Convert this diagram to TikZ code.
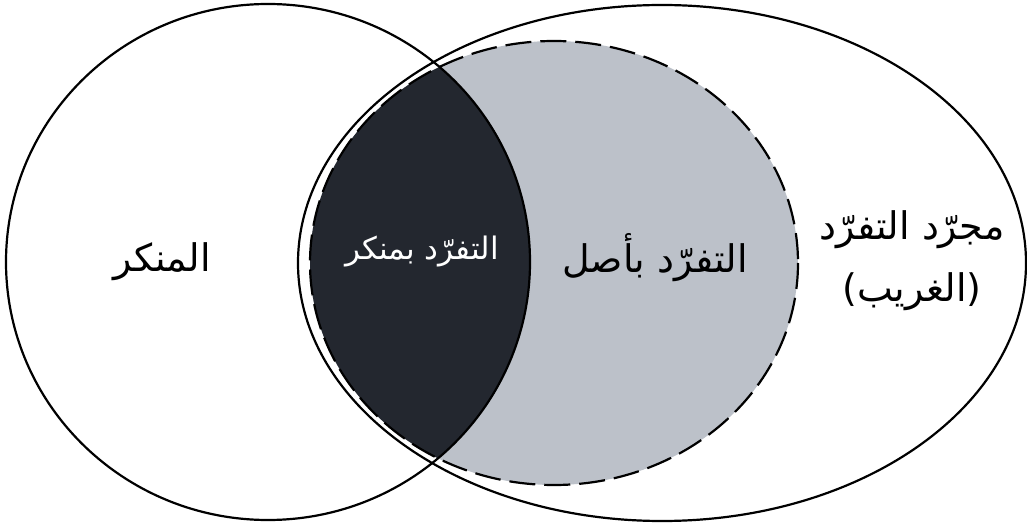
\documentclass[tikz,border=0pt]{standalone}
\usepackage{fontspec}
\TeXXeTstate=1
\newfontfamily\arabicfont[Script=Arabic]{DejaVu Sans}
\definecolor{darkfill}{HTML}{23272F}
\definecolor{grayfill}{HTML}{BCC1C9}
\tikzset{
  outline/.style={draw=black, line width=2.2pt},
  dashline/.style={draw=black, line width=2.2pt, dash pattern=on 26pt off 9pt},
  lbl/.style={font=\arabicfont\fontsize{38}{44}\selectfont, align=center, inner sep=0pt},
}
\begin{document}
\begin{tikzpicture}[x=1pt,y=-1pt]
\useasboundingbox (0,0) rectangle (1027,526);
% gray ellipse fill
\fill[grayfill] (554,263) ellipse [x radius=244, y radius=222];
% dark intersection
\begin{scope}
  \clip (268,262) ellipse [x radius=262, y radius=258];
  \fill[darkfill] (554,263) ellipse [x radius=244, y radius=222];
\end{scope}
% dashed ellipse
\draw[dashline] (554,263) ellipse [x radius=244, y radius=222];
% left circle
\draw[outline] (268,262) ellipse [x radius=262, y radius=258];
% right ellipse
\draw[outline] (662,263) ellipse [x radius=364, y radius=258];
% labels
\node[lbl] (munkar) at (162,262) {\beginR المنكر\endR};
\node[lbl, text=white, font=\arabicfont\fontsize{31}{36}\selectfont] (tafbimunkar) at (422,252) {\beginR التفرّد بمنكر\endR};
\node[lbl] (tafasl) at (655,258) {\beginR التفرّد بأصل\endR};
\node[lbl] (mujarrad) at (912,230) {\beginR مجرّد التفرّد\endR};
\node[lbl] (gharib) at (912,292) {\beginR (الغريب)\endR};
\end{tikzpicture}
\end{document}
